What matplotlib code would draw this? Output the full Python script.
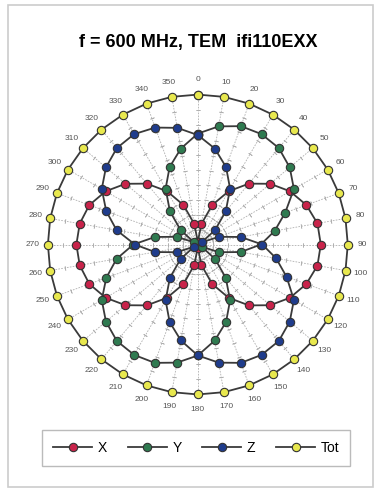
import numpy as np
import matplotlib.pyplot as plt
from matplotlib.patches import Rectangle

plt.rcParams['font.family'] = ['Liberation Sans', 'DejaVu Sans']

# angle of the probe (degrees) and field (normalised)
angles = list(range(0, 360, 10))
x_vals = [0.02, 0.14, 0.28, 0.41, 0.53, 0.63, 0.71, 0.77, 0.81, 0.82, 0.81, 0.77,
          0.71, 0.63, 0.53, 0.41, 0.28, 0.14, 0.02, 0.14, 0.28, 0.41, 0.53, 0.63,
          0.71, 0.77, 0.80, 0.81, 0.80, 0.77, 0.71, 0.63, 0.53, 0.41, 0.28, 0.14]
y_vals = [0.74, 0.80, 0.84, 0.85, 0.84, 0.80, 0.74, 0.62, 0.52, 0.42, 0.29, 0.15,
          0.03, 0.15, 0.29, 0.43, 0.55, 0.65, 0.74, 0.80, 0.84, 0.85, 0.84, 0.80,
          0.74, 0.65, 0.55, 0.43, 0.29, 0.15, 0.03, 0.15, 0.29, 0.43, 0.55, 0.65]
z_vals = [0.73, 0.65, 0.55, 0.43, 0.29, 0.15, 0.03, 0.15, 0.29, 0.43, 0.53, 0.63,
          0.74, 0.80, 0.84, 0.85, 0.84, 0.80, 0.74, 0.65, 0.55, 0.43, 0.29, 0.15,
          0.03, 0.15, 0.29, 0.42, 0.55, 0.65, 0.74, 0.80, 0.84, 0.85, 0.83, 0.79]
tot_vals = [1.0] * 36

series = [('X', x_vals, '#c8234a'), ('Y', y_vals, '#2f7a50'),
          ('Z', z_vals, '#1f3c8c'), ('Tot', tot_vals, '#e8e84e')]

fig = plt.figure(figsize=(3.79, 4.9), dpi=100)
ax = fig.add_axes([0.126, 0.195, 0.792, 0.612], projection='polar')
ax.set_theta_zero_location('N')
ax.set_theta_direction(-1)
ax.set_ylim(0, 1.0)
ax.set_yticks([])
ax.set_xticks([])
ax.spines['polar'].set_visible(False)
ax.grid(False)

# spokes with small ticks
for a in angles:
    t = np.deg2rad(a)
    ax.plot([t, t], [0, 1.0], color='#b0b0b0', lw=0.6, ls=(0, (2, 1.5)), zorder=1)
    ax.plot([t] * 9, np.arange(0.1, 1.0, 0.1), ls='none', marker=(2, 2, 90 - a),
            ms=3, mew=0.5, color='#b0b0b0', zorder=1)
    ax.text(t, 1.1, str(a), fontsize=6, color='#555555', ha='center', va='center')

for name, vals, col in series:
    th = np.deg2rad(angles + [angles[0]])
    r = vals + [vals[0]]
    ax.plot(th, r, color='#3a3a3a', lw=1.3, marker='o', ms=6, mfc=col,
            mec='#333333', mew=0.8, label=name, clip_on=False, zorder=3)

fig.text(0.522, 0.914, 'f = 600 MHz, TEM  ifi110EXX', fontsize=13,
         weight='bold', ha='center', va='center')

leg = fig.legend(loc='center', bbox_to_anchor=(0.518, 0.086), ncol=4,
                 fontsize=10, frameon=True, fancybox=False, handlelength=2.8,
                 columnspacing=1.5, handletextpad=0.4, borderpad=0.8)
leg.get_frame().set_edgecolor('#aaaaaa')
leg.get_frame().set_linewidth(1.0)

fig.patches.append(Rectangle((8 / 379, 3 / 490), 365 / 379, 482 / 490,
                             transform=fig.transFigure, fill=False,
                             edgecolor='#cccccc', lw=1.2))

fig.savefig('out.png', dpi=100)
